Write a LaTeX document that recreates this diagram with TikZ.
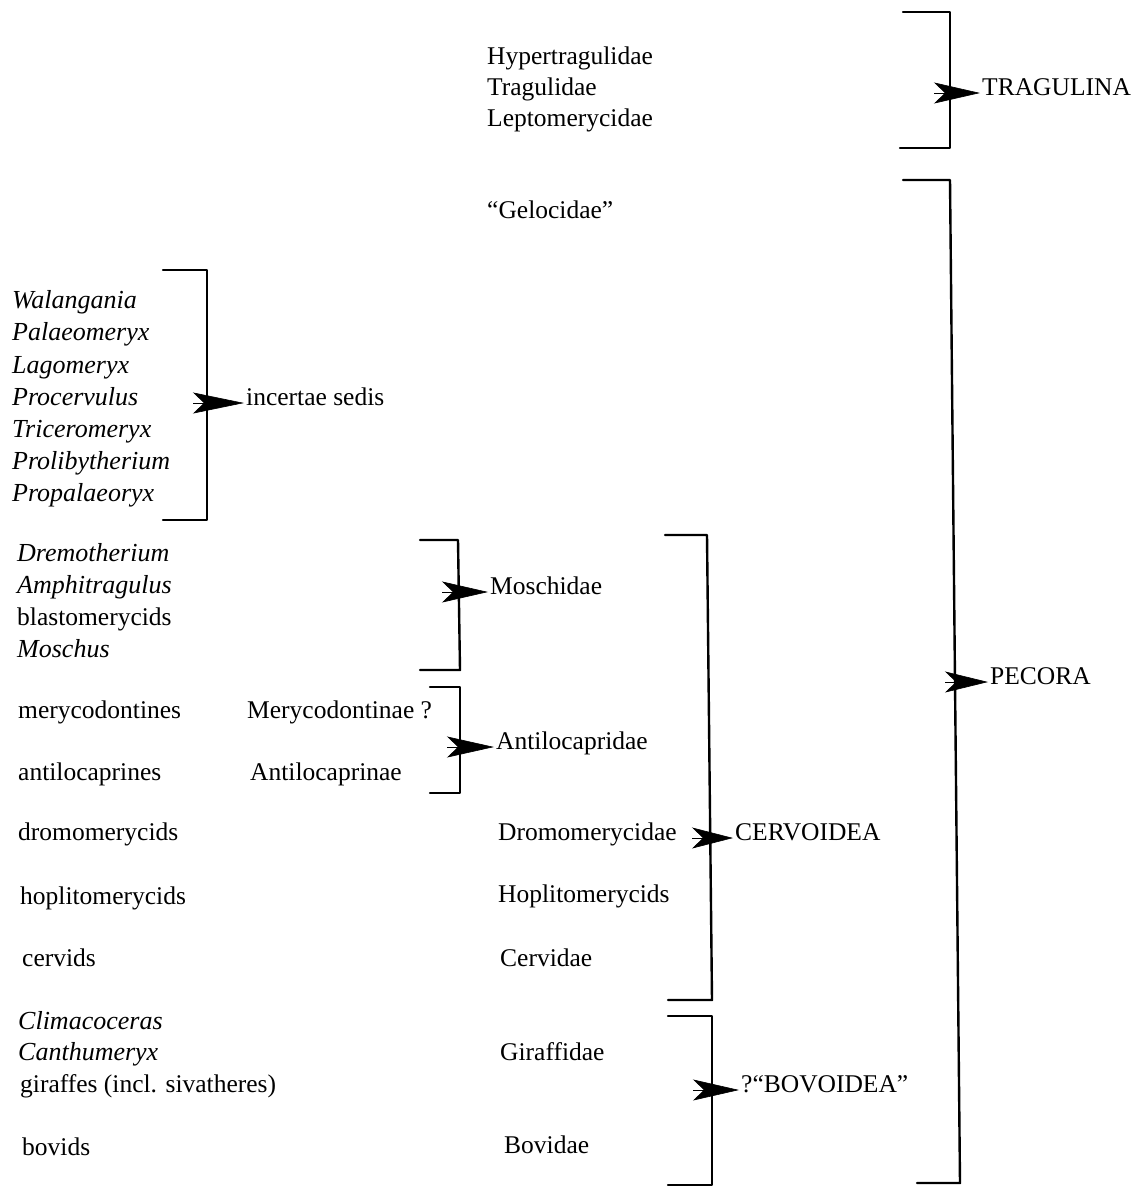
\documentclass[tikz,border=0pt]{standalone}
\usepackage{fontspec}
\setmainfont{Liberation Serif}
\usetikzlibrary{arrows.meta}
\begin{document}
\begin{tikzpicture}[x=1pt,y=-1pt,
  txt/.style={anchor=mid west, inner sep=0pt, yshift=-6pt, font=\fontsize{25.5}{30}\selectfont},
  itx/.style={anchor=mid west, inner sep=0pt, yshift=-6pt, font=\fontsize{26}{30}\selectfont\itshape},
  brk/.style={line width=2.4pt, line join=round, line cap=round},
  arr/.style={line width=0.6pt, -{Stealth[length=#1,width=21pt,inset=11pt]}, shorten >=2pt}]
\useasboundingbox (0,0) rectangle (1147,1189);

% top group
\node[txt] (hyp) at (487,56) {Hypertragulidae};
\node[txt] (tra) at (487,87) {Tragulidae};
\node[txt] (lep) at (487,118) {Leptomerycidae};
\node[txt] (gel) at (487,210) {“Gelocidae”};

% incertae sedis group
\node[itx] (wal) at (12,300) {Walangania};
\node[itx] (pal) at (12,332) {Palaeomeryx};
\node[itx] (lag) at (12,365) {Lagomeryx};
\node[itx] (pro) at (12,397) {Procervulus};
\node[itx] (tri) at (12,429) {Triceromeryx};
\node[itx] (plb) at (12,461) {Prolibytherium};
\node[itx] (ppl) at (12,493) {Propalaeoryx};

% moschids
\node[itx] (dre) at (17,553) {Dremotherium};
\node[itx] (amp) at (17,585) {Amphitragulus};
\node[txt] (bla) at (17,617) {blastomerycids};
\node[itx] (mos) at (17,649) {Moschus};

% antilocaprids
\node[txt] (mer) at (18,710) {merycodontines};
\node[txt] (Mer) at (247,710) {Merycodontinae ?};
\node[txt] (ant) at (18,772) {antilocaprines};
\node[txt] (Ant) at (250,772) {Antilocaprinae};

% others
\node[txt] (dro) at (18,832) {dromomerycids};
\node[txt] (Dro) at (498,832) {Dromomerycidae};
\node[txt] (hop) at (20,896) {hoplitomerycids};
\node[txt] (Hop) at (498,894) {Hoplitomerycids};
\node[txt] (cer) at (22,958) {cervids};
\node[txt] (Cer) at (500,958) {Cervidae};

\node[itx] (cli) at (18,1021) {Climacoceras};
\node[itx] (can) at (18,1052) {Canthumeryx};
\node[txt] (gir) at (20,1084) {giraffes (incl. sivatheres)};
\node[txt] (bov) at (22,1147) {bovids};
\node[txt] (Gir) at (500,1052) {Giraffidae};
\node[txt] (Bov) at (504,1145) {Bovidae};

% group labels
\node[txt] (TRA) at (982,87) {TRAGULINA};
\node[txt] (PEC) at (990,676) {PECORA};
\node[txt] (INC) at (246,397) {incertae sedis};
\node[txt] (MOS) at (490,586) {Moschidae};
\node[txt] (ANT) at (496,741) {Antilocapridae};
\node[txt] (CER) at (735,832) {CERVOIDEA};
\node[txt] (BOV) at (741,1084) {?“BOVOIDEA”};

% brackets
\coordinate (t1) at (903,12);  \coordinate (t2) at (950,12);
\coordinate (t3) at (950,148); \coordinate (t4) at (900,148);
\draw[brk] (t1) -- (t2) -- (t3) -- (t4);
\coordinate (ta) at (934,87);
\draw[arr=46pt] (ta |- TRA.mid west) -- (TRA.mid west);

\coordinate (p1) at (903,180);  \coordinate (p2) at (950,180);
\coordinate (p3) at (960,1183); \coordinate (p4) at (917,1183);
\draw[brk] (p1) -- (p2) -- (p3) -- (p4);
\coordinate (pa) at (945,676);
\draw[arr=43pt] (pa |- PEC.mid west) -- (PEC.mid west);

\coordinate (i1) at (163,270); \coordinate (i2) at (207,270);
\coordinate (i3) at (207,520); \coordinate (i4) at (163,520);
\draw[brk] (i1) -- (i2) -- (i3) -- (i4);
\coordinate (ia) at (193,397);
\draw[arr=51pt] (ia |- INC.mid west) -- (INC.mid west);

\coordinate (m1) at (420,540); \coordinate (m2) at (458,540);
\coordinate (m3) at (460,670); \coordinate (m4) at (420,670);
\draw[brk] (m1) -- (m2) -- (m3) -- (m4);
\coordinate (ma) at (442,586);
\draw[arr=46pt] (ma |- MOS.mid west) -- (MOS.mid west);

\coordinate (a1) at (430,687); \coordinate (a2) at (460,687);
\coordinate (a3) at (460,793); \coordinate (a4) at (430,793);
\draw[brk] (a1) -- (a2) -- (a3) -- (a4);
\coordinate (aa) at (447,741);
\draw[arr=47pt] (aa |- ANT.mid west) -- (ANT.mid west);

\coordinate (c1) at (665,535);  \coordinate (c2) at (707,535);
\coordinate (c3) at (712,1000); \coordinate (c4) at (668,1000);
\draw[brk] (c1) -- (c2) -- (c3) -- (c4);
\coordinate (ca) at (692,832);
\draw[arr=41pt] (ca |- CER.mid west) -- (CER.mid west);

\coordinate (b1) at (668,1016); \coordinate (b2) at (712,1016);
\coordinate (b3) at (712,1185); \coordinate (b4) at (668,1185);
\draw[brk] (b1) -- (b2) -- (b3) -- (b4);
\coordinate (ba) at (693,1084);
\draw[arr=46pt] (ba |- BOV.mid west) -- (BOV.mid west);
\end{tikzpicture}
\end{document}
